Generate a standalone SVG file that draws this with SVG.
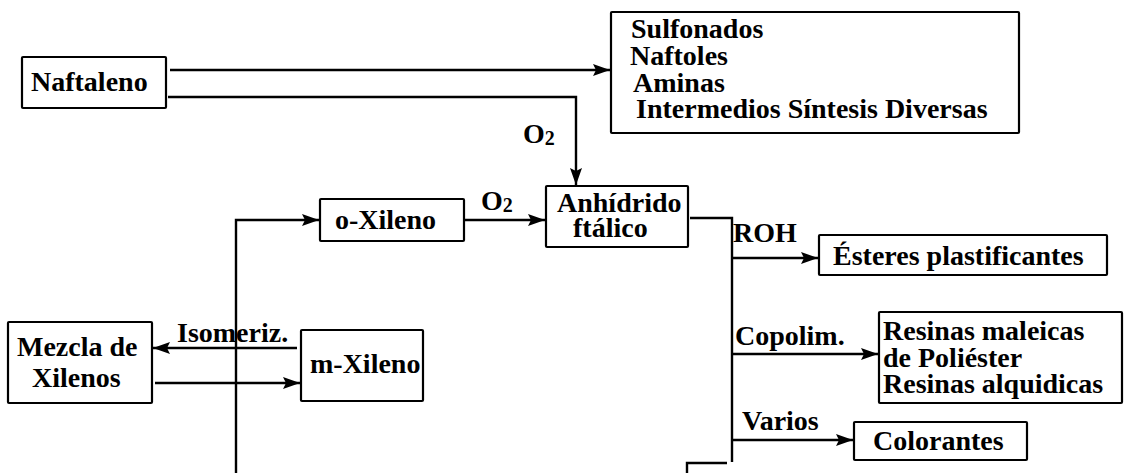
<svg xmlns="http://www.w3.org/2000/svg" width="1124" height="473" viewBox="0 0 1124 473">
<defs>
<style>
text{font-family:"Liberation Serif","Times New Roman",serif;font-weight:bold;font-size:28px;fill:#000}
.box{fill:#fff;stroke:#000;stroke-width:2.2}
.ln{fill:none;stroke:#000;stroke-width:2.4}
.sub{font-size:20px}
</style>
<marker id="ah" markerUnits="userSpaceOnUse" markerWidth="18" markerHeight="12" refX="17" refY="6" orient="auto">
<path d="M0,0 L17,6 L0,12 L3,6 z" fill="#000"/>
</marker>
</defs>
<rect width="1124" height="473" fill="#fff"/>
<g id="connectors">
<path class="ln" d="M170,70 H610" marker-end="url(#ah)"/>
<path class="ln" d="M168,97 H576 V185" marker-end="url(#ah)"/>
<path class="ln" d="M464,220 H545" marker-end="url(#ah)"/>
<path class="ln" d="M236,473 V220 H319" marker-end="url(#ah)"/>
<path class="ln" d="M297,348 H153" marker-end="url(#ah)"/>
<path class="ln" d="M155,383 H300" marker-end="url(#ah)"/>
<path class="ln" d="M690,218 H732 V462"/>
<path class="ln" d="M732,258 H818" marker-end="url(#ah)"/>
<path class="ln" d="M732,354 H878" marker-end="url(#ah)"/>
<path class="ln" d="M732,440 H853" marker-end="url(#ah)"/>
<path class="ln" d="M687,473 V463 H727"/>
<text x="523" y="143">O<tspan class="sub" dy="2">2</tspan></text>
<text x="481" y="210">O<tspan class="sub" dy="2">2</tspan></text>
<text x="177" y="342">Isomeriz.</text>
<text x="733" y="242">ROH</text>
<text x="735" y="345">Copolim.</text>
<text x="742" y="430">Varios</text>
</g>
<g id="naftaleno">
<rect class="box" x="22" y="57" width="144" height="51" rx="1"/>
<text x="31" y="91">Naftaleno</text>
</g>
<g id="derivados">
<rect class="box" x="611" y="12" width="408" height="121" rx="1"/>
<text x="631" y="38">Sulfonados</text>
<text x="630" y="65">Naftoles</text>
<text x="633" y="92">Aminas</text>
<text x="636" y="118">Intermedios Síntesis Diversas</text>
</g>
<g id="anhidrido">
<rect class="box" x="546" y="186" width="142" height="61" rx="1"/>
<text x="557" y="212">Anhídrido</text>
<text x="573" y="237">ftálico</text>
</g>
<g id="oxileno">
<rect class="box" x="320" y="199" width="144" height="42" rx="1"/>
<text x="335" y="229">o-Xileno</text>
</g>
<g id="mezcla">
<rect class="box" x="8" y="322" width="144" height="81" rx="1"/>
<text x="17" y="356">Mezcla de</text>
<text x="32" y="387">Xilenos</text>
</g>
<g id="mxileno">
<rect class="box" x="301" y="330" width="122" height="71" rx="1"/>
<text x="310" y="373">m-Xileno</text>
</g>
<g id="esteres">
<rect class="box" x="819" y="235" width="288" height="40" rx="1"/>
<text x="833" y="265">Ésteres plastificantes</text>
</g>
<g id="resinas">
<rect class="box" x="879" y="312" width="243" height="91" rx="1"/>
<text x="883" y="340">Resinas maleicas</text>
<text x="883" y="367">de Poliéster</text>
<text x="883" y="393">Resinas alquidicas</text>
</g>
<g id="colorantes">
<rect class="box" x="854" y="422" width="173" height="38" rx="1"/>
<text x="873" y="450">Colorantes</text>
</g>
</svg>
